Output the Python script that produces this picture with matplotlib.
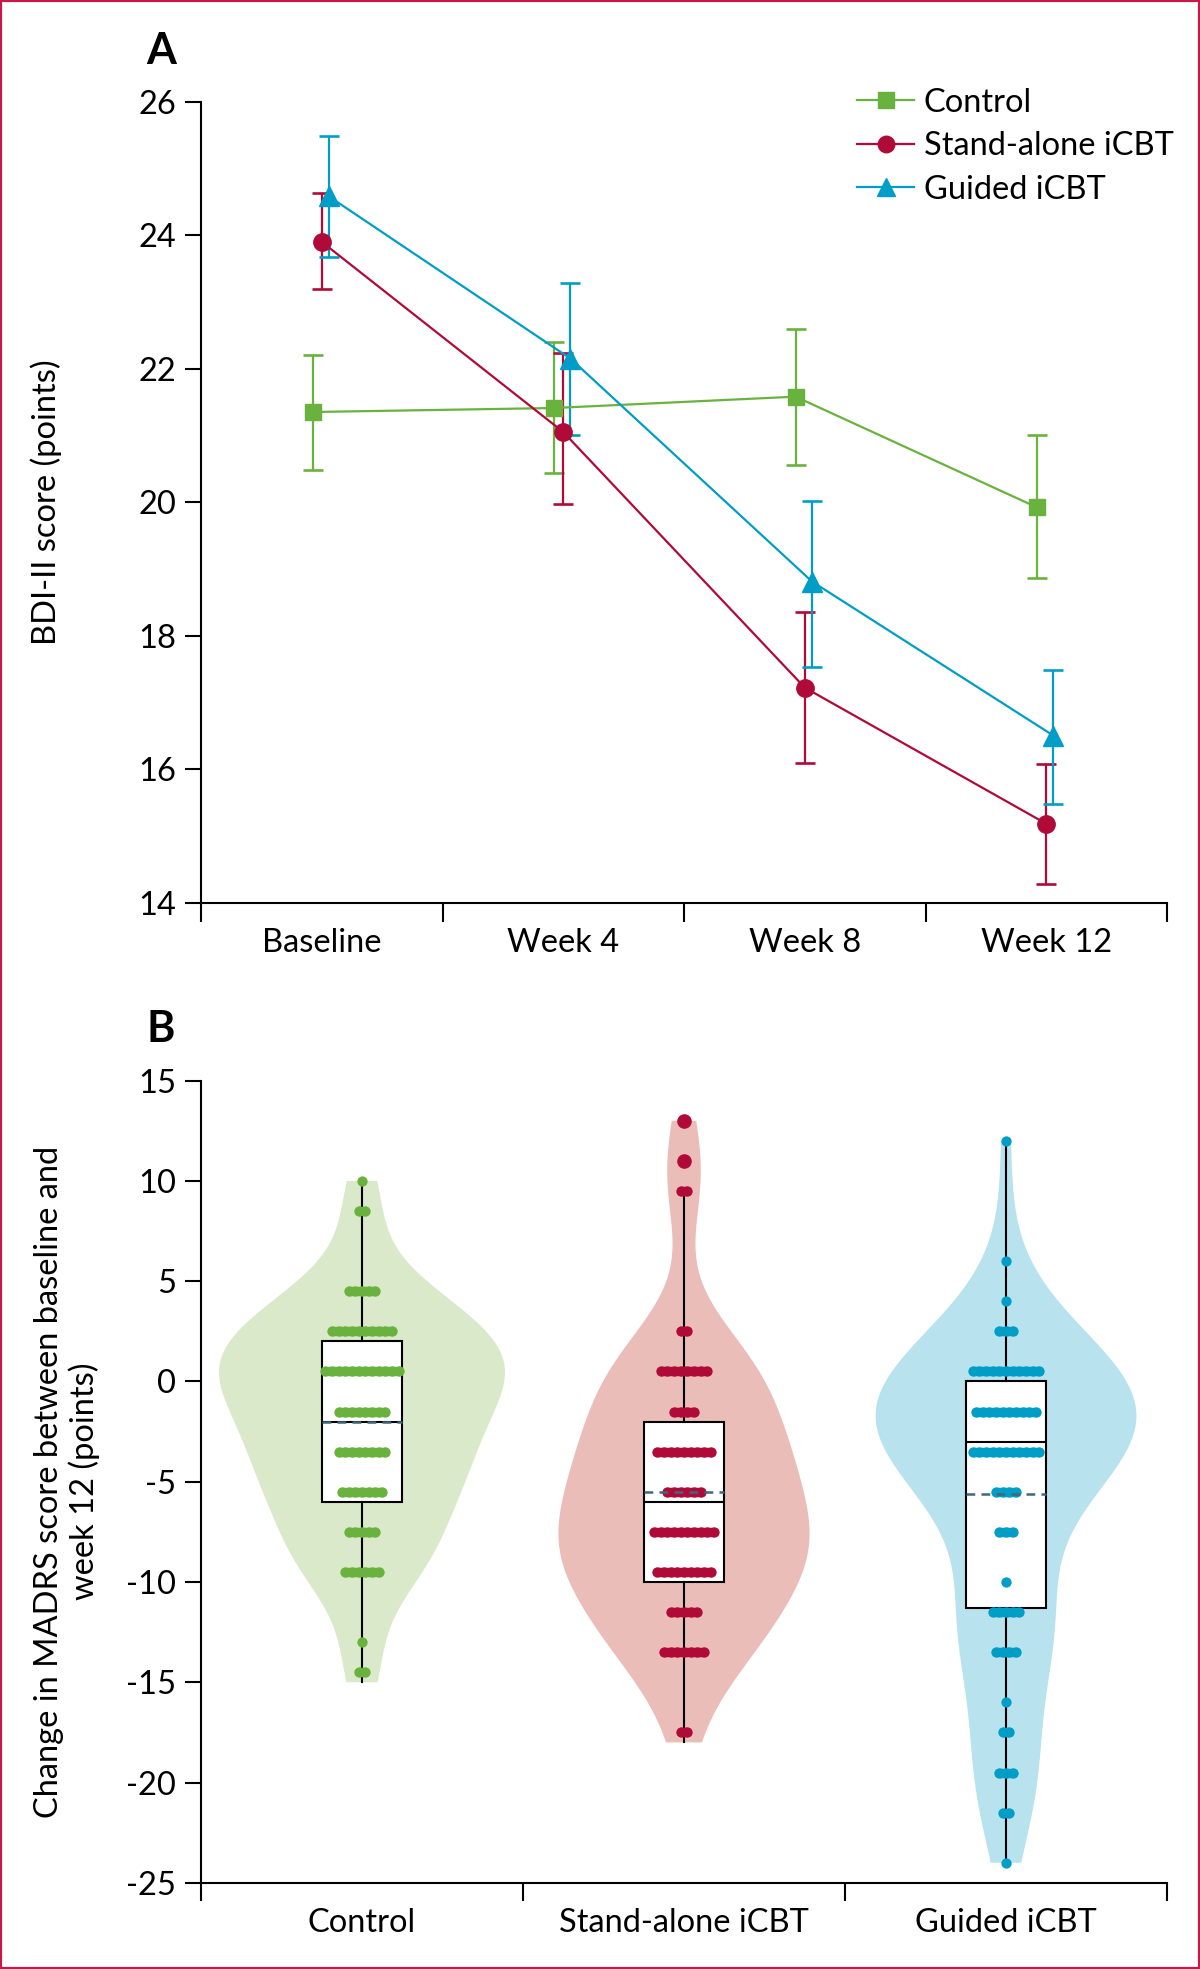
import numpy as np
import matplotlib
matplotlib.use("Agg")
import matplotlib.pyplot as plt
from matplotlib import font_manager, mlab
from matplotlib.lines import Line2D
from matplotlib.patches import Rectangle

# ---------------- data: panel A (BDI-II, mean with 95% CI) ----------------
timepoints = ["Baseline", "Week 4", "Week 8", "Week 12"]
group_names = ["Control", "Stand-alone iCBT", "Guided iCBT"]

control_mean = [21.35, 21.41, 21.58, 19.92]
control_low = [20.48, 20.43, 20.55, 18.87]
control_high = [22.20, 22.40, 22.60, 21.00]

standalone_mean = [23.90, 21.05, 17.22, 15.18]
standalone_low = [23.19, 19.97, 16.09, 14.28]
standalone_high = [24.63, 22.23, 18.35, 16.08]

guided_mean = [24.58, 22.15, 18.81, 16.50]
guided_low = [23.68, 21.00, 17.53, 15.47]
guided_high = [25.49, 23.28, 20.02, 17.49]

# ---------------- data: panel B (change in MADRS) ----------------
control_dot_values = [10, 8.5, 4.5, 2.5, 0.5, -1.5, -3.5, -5.5, -7.5, -9.5, -13, -14.5]
control_dot_counts = [1, 2, 5, 10, 12, 8, 8, 7, 5, 6, 1, 2]

standalone_dot_values = [9.5, 2.5, 0.5, -1.5, -3.5, -5.5, -7.5, -9.5, -11.5, -13.5, -17.5]
standalone_dot_counts = [2, 2, 8, 4, 9, 6, 10, 9, 5, 7, 2]
standalone_fliers = [13, 11]

guided_dot_values = [12, 6, 4, 2.5, 0.5, -1.5, -3.5, -5.5, -7.5, -10, -11.5, -13.5,
                     -16, -17.5, -19.5, -21.5, -24]
guided_dot_counts = [1, 1, 1, 3, 11, 10, 11, 4, 3, 1, 5, 4, 1, 2, 3, 2, 1]

box_q1 = [-6, -10, -11.3]
box_median = [-2, -6, -3]
box_q3 = [2, -2, 0]
box_mean = [-2, -5.5, -5.6]
whisker_low = [-15, -18, -24]
whisker_high = [10, 9.5, 12]

# ---------------- styles ----------------
GREEN, RED, BLUE = "#6ab23e", "#b00a38", "#009ec6"
VIOLIN_COLORS = ["#d9e9c9", "#ebbdb8", "#b8e2ee"]
MEAN_COLOR = "#3f6878"
FRAME_COLOR = "#c8174a"
FS = 23.5


def pick_font(cands):
    for f in cands:
        try:
            font_manager.findfont(font_manager.FontProperties(family=f),
                                  fallback_to_default=False)
            return f
        except Exception:
            continue
    return "DejaVu Sans"


main_font = pick_font(["Liberation Sans Narrow", "Lato", "Liberation Sans"])
plt.rcParams["font.family"] = [main_font, "DejaVu Sans"]
plt.rcParams["font.size"] = FS
plt.rcParams["axes.unicode_minus"] = False

W, H = 1200, 1969
fig = plt.figure(figsize=(W / 100, H / 100), dpi=100)

axA = fig.add_axes([201 / W, 1 - 902.5 / H, 966 / W, 800.8 / H])
axB = fig.add_axes([201 / W, 1 - 1882.8 / H, 966 / W, 802.1 / H])

for ax in (axA, axB):
    for s in ("top", "right"):
        ax.spines[s].set_visible(False)
    for s in ("left", "bottom"):
        ax.spines[s].set_linewidth(1.5)
    ax.tick_params(axis="y", length=11.5, width=1.5, pad=6.5, labelsize=FS)
    ax.tick_params(axis="x", which="major", length=13.5, width=1.5, labelbottom=False)
    ax.tick_params(axis="x", which="minor", length=0, labelsize=FS)

# ---------------- panel A ----------------
xc = np.arange(len(timepoints)) + 0.5
series = [
    (control_mean, control_low, control_high, GREEN, "s", 12, -0.038),
    (standalone_mean, standalone_low, standalone_high, RED, "o", 12.5, 0.0),
    (guided_mean, guided_low, guided_high, BLUE, "^", 14, 0.03),
]
handles = []
for (m, lo, hi, col, mk, ms, off), name in zip(series, group_names):
    m = np.array(m); lo = np.array(lo); hi = np.array(hi)
    x = xc + off
    axA.errorbar(x, m, yerr=[m - lo, hi - m], fmt="none", ecolor=col,
                 elinewidth=1.6, capsize=7.5, capthick=1.9, zorder=2)
    axA.plot(x, m, color=col, lw=1.6, marker=mk, ms=ms, mec=col, mfc=col, zorder=3)
    handles.append(Line2D([], [], color=col, lw=1.6, marker=mk, ms=ms * 0.95,
                          mec=col, mfc=col, label=name))

axA.set_xlim(0, 4)
axA.set_ylim(14, 26)
axA.set_yticks(np.arange(14, 27, 2))
axA.set_xticks(np.arange(0, 5))
axA.set_xticks(xc, minor=True)
axA.set_xticklabels(timepoints, minor=True)
axA.tick_params(axis="x", which="minor", pad=18.5)

fig.legend(handles=handles, loc="upper left",
           bbox_to_anchor=(857 / W, 1 - 87.5 / H), frameon=False,
           borderaxespad=0, borderpad=0, handlelength=1.75, handletextpad=0.3,
           labelspacing=0.42, fontsize=FS)

fig.text(46 / W, 1 - 502 / H, "BDI-II score (points)", rotation=90,
         ha="center", va="center", fontsize=FS)
fig.text(161 / W, 1 - 50.5 / H, "A", ha="center", va="center", fontsize=31,
         fontweight="bold")

# ---------------- panel B ----------------
posB = np.arange(3) + 0.5
dot_sets = [
    (control_dot_values, control_dot_counts, []),
    (standalone_dot_values, standalone_dot_counts, standalone_fliers),
    (guided_dot_values, guided_dot_counts, []),
]
dot_colors = [GREEN, RED, BLUE]
violin_widths = [0.888, 0.78, 0.81]

vpstats = []
for i, (vals, cnts, fl) in enumerate(dot_sets):
    data = np.concatenate([np.repeat(vals, cnts), np.array(fl, dtype=float)])
    kde = mlab.GaussianKDE(data, bw_method=0.4)
    top = max(whisker_high[i], max(fl) if fl else whisker_high[i])
    coords = np.linspace(whisker_low[i], top, 300)
    vpstats.append(dict(coords=coords, vals=kde.evaluate(coords), mean=np.mean(data),
                        median=np.median(data), min=whisker_low[i], max=top))

vp = axB.violin(vpstats, positions=posB, widths=violin_widths, showmeans=False,
                showextrema=False, showmedians=False)
for body, c in zip(vp["bodies"], VIOLIN_COLORS):
    body.set_facecolor(c)
    body.set_edgecolor("none")
    body.set_alpha(1)
    body.set_zorder(1)

bstats = []
for i in range(3):
    bstats.append(dict(med=box_median[i], q1=box_q1[i], q3=box_q3[i],
                       whislo=whisker_low[i], whishi=whisker_high[i],
                       mean=box_mean[i], fliers=dot_sets[i][2]))
bp = axB.bxp(bstats, positions=posB, widths=0.25, patch_artist=True,
             showcaps=False, showmeans=True, meanline=True,
             boxprops=dict(facecolor="white", edgecolor="black", linewidth=1.5),
             whiskerprops=dict(color="black", linewidth=1.5),
             medianprops=dict(color="black", linewidth=1.5),
             meanprops=dict(color=MEAN_COLOR, linewidth=1.8, linestyle=(0, (3.5, 2.5))),
             flierprops=dict(marker="o", markersize=10.5, markeredgecolor="none"))
for b in bp["boxes"]:
    b.set_zorder(2)
for m in bp["means"]:
    m.set_zorder(5)
for f, c in zip(bp["fliers"], dot_colors):
    f.set_markerfacecolor(c)
    f.set_zorder(4)

spacing = 0.0207
dot_pt = 7.4
for i, (vals, cnts, fl) in enumerate(dot_sets):
    for v, n in zip(vals, cnts):
        xs = posB[i] + (np.arange(n) - (n - 1) / 2) * spacing
        ys = np.full(n, float(v))
        axB.scatter(xs, ys, s=dot_pt ** 2, color=dot_colors[i], linewidths=0,
                    zorder=4)
        if n > 1:
            axB.plot(xs, ys, color=dot_colors[i], lw=dot_pt * 0.92,
                     solid_capstyle="round", zorder=4)

axB.set_xlim(0, 3)
axB.set_ylim(-25, 15)
axB.set_yticks(np.arange(-25, 16, 5))
axB.set_xticks(np.arange(0, 4))
axB.set_xticks(posB, minor=True)
axB.set_xticklabels(group_names, minor=True)
axB.tick_params(axis="x", which="major", length=13)
axB.tick_params(axis="x", which="minor", pad=18)

fig.text(67 / W, 1 - 1481.7 / H,
         "Change in MADRS score between baseline and\nweek 12 (points)",
         rotation=90, ha="center", va="center", multialignment="center",
         fontsize=FS, linespacing=1.2)
fig.text(161 / W, 1 - 1029 / H, "B", ha="center", va="center", fontsize=31,
         fontweight="bold")

fig.patches.append(Rectangle((0, 0), 1, 1, transform=fig.transFigure, fill=False,
                             edgecolor=FRAME_COLOR, linewidth=3, zorder=10))

fig.savefig("out.png", dpi=100)
